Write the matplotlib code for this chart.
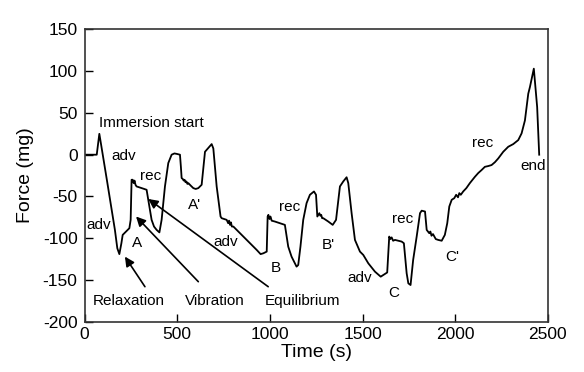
import matplotlib
matplotlib.use("Agg")
import matplotlib.pyplot as plt

plt.rcParams['font.family'] = ['Liberation Sans', 'DejaVu Sans']
plt.rcParams['axes.unicode_minus'] = False

# force trace (time in s, force in mg)
time_s = [0, 66, 80, 122, 164, 177, 188, 199, 206, 224, 242, 249, 254, 260, 265, 270, 275, 281,
          295, 308, 322, 335, 344, 362, 375, 389, 404, 416, 434, 452, 470, 485, 497, 515, 520,
          524, 530, 535, 540, 545, 550, 555, 560, 573, 587, 600, 614, 632, 650, 668, 686, 695,
          713, 734, 740, 767, 775, 780, 785, 790, 795, 803, 821, 839, 857, 875, 902, 929, 950,
          965, 983, 988, 992, 998, 1003, 1010, 1027, 1054, 1081, 1099, 1117, 1144, 1153, 1165,
          1180, 1198, 1216, 1238, 1249, 1256, 1267, 1272, 1277, 1282, 1288, 1315, 1339, 1357,
          1378, 1396, 1414, 1423, 1441, 1459, 1486, 1504, 1531, 1567, 1598, 1633, 1644, 1650,
          1657, 1665, 1675, 1711, 1723, 1738, 1747, 1759, 1773, 1792, 1810, 1819, 1837, 1846,
          1860, 1866, 1872, 1880, 1895, 1908, 1927, 1944, 1957, 1968, 1981, 1995, 2005, 2015,
          2022, 2030, 2043, 2060, 2079, 2090, 2106, 2124, 2142, 2160, 2178, 2196, 2214, 2232,
          2259, 2286, 2313, 2340, 2358, 2376, 2394, 2403, 2424, 2442, 2453]
force_mg = [0, 0, 25, -32, -90, -112, -119, -106, -96, -92, -88, -78, -30, -30, -34, -31, -36, -38,
            -39, -40, -41, -42, -54, -78, -86, -90, -93, -78, -38, -10, 0, 1.5, 1, 0, -14.5,
            -28, -29, -31, -30, -33, -32, -35, -34, -37, -40, -41, -40, -36, 3.5, 8, 12.7, 7.5,
            -38, -74, -76, -78, -82, -79, -84, -81, -86, -86, -90, -94, -98, -102, -108, -114,
            -119, -118, -116, -74, -72, -77, -74, -79, -80, -82, -84, -110, -122, -134, -132,
            -110, -78, -58, -48, -44, -48, -74, -70, -73, -72, -76, -76, -80, -84, -78, -38, -32,
            -27, -34, -70, -102, -116, -120, -130, -140, -146, -141, -98, -101, -99, -103, -102,
            -104, -106, -142, -154, -156, -126, -98, -70, -67, -68, -90, -94, -92, -97, -95,
            -101, -102, -103, -96, -82, -62, -54, -52, -48, -51, -46, -48, -44, -40, -34, -31,
            -26.5, -22, -18.4, -14.5, -13.6, -12.4, -9, -4.5, 3.5, 9.5, 12.7, 17.5, 25.5, 41, 73,
            81, 103, 57, 0]

# text labels along the trace: (text, time, force)
labels = [("Immersion start", 78, 38, "left"),
          ("adv", 213, -2, "center"),
          ("rec", 359, -26, "center"),
          ("adv", 74, -84, "center"),
          ("A", 285, -106, "center"),
          ("A'", 596, -60, "center"),
          ("adv", 761, -104, "center"),
          ("B", 1033, -136, "center"),
          ("rec", 1105, -63, "center"),
          ("B'", 1315, -108, "center"),
          ("adv", 1482, -147, "center"),
          ("C", 1666, -166, "center"),
          ("rec", 1716, -77, "center"),
          ("C'", 1986, -122, "center"),
          ("rec", 2148, 14, "center"),
          ("end", 2421, -14, "center")]

# arrow annotations: (text, text position, arrow tail, arrow head)
arrow_text = ["Relaxation", "Vibration", "Equilibrium"]
arrow_text_xy = [(236, -175), (704, -175), (1177, -175)]
arrow_tail = [(326, -158), (614, -152), (991, -158)]
arrow_head = [(218, -122), (278, -74), (344, -53)]

fig = plt.figure(figsize=(5.84, 3.72), dpi=100)
ax = fig.add_axes([0.1447, 0.135, 0.7935, 0.786])

ax.plot(time_s, force_mg, color="black", linewidth=1.3)

for txt, t, f, ha in labels:
    ax.text(t, f, txt, fontsize=11, ha=ha, va="center")

for txt, txy, tail, head in zip(arrow_text, arrow_text_xy, arrow_tail, arrow_head):
    ax.text(txy[0], txy[1], txt, fontsize=11, ha="center", va="center")
    ax.annotate("", xy=head, xytext=tail,
                arrowprops=dict(arrowstyle="-|>", color="black", lw=1.2,
                                mutation_scale=14, shrinkA=0, shrinkB=0))

ax.set_xlim(0, 2500)
ax.set_ylim(-200, 150)
ax.set_xticks(range(0, 2501, 500))
ax.set_yticks(range(-200, 151, 50))
ax.tick_params(direction="in", length=6, width=1, labelsize=12.5, top=False, right=False)
ax.tick_params(axis="y", pad=5)
ax.tick_params(axis="x", pad=4)
for sp in ax.spines.values():
    sp.set_linewidth(1.2)
    sp.set_color("#333333")

ax.set_xlabel("Time (s)", fontsize=14, labelpad=1)
ax.set_ylabel("Force (mg)", fontsize=14, labelpad=6)

fig.savefig("out.png", dpi=100)
